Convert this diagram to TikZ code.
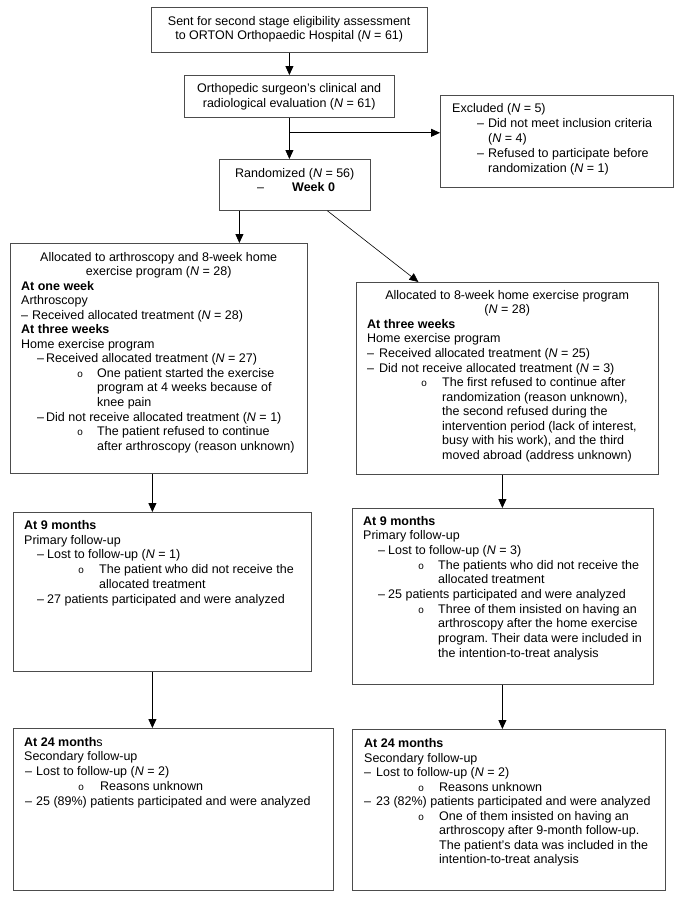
\documentclass[tikz,border=0pt]{standalone}
\usepackage{fontspec}
\setmainfont{Liberation Sans}
\newfontfamily\monof{Liberation Mono}
\usetikzlibrary{arrows.meta}
\frenchspacing
\newcommand{\NN}{\textit{N}}
\newcommand{\ind}[1]{\hspace*{#1pt}}
\newcommand{\dl}[3]{\hspace*{#1pt}\makebox[#2pt][l]{–}#3}
\newcommand{\bl}[3]{\hspace*{#1pt}\makebox[#2pt][l]{\hspace{1pt}{\monof\fontsize{10}{10}\selectfont o}}#3}
\newcommand{\btext}[3]{\begin{minipage}[t]{#1pt}\fontsize{12.5pt}{#2pt}\selectfont\frenchspacing\raggedright #3\end{minipage}}
\begin{document}
\begin{tikzpicture}[x=1pt,y=-1pt,
  box/.style={draw=black!70, line width=0.8pt, anchor=north west, inner sep=0pt},
  arr/.style={-{Triangle[length=9pt,width=8pt]}, line width=0.8pt},
  txt/.style={anchor=base west, inner sep=0pt}]
\useasboundingbox (0,0) rectangle (685,900);
\fill[white] (0,0) rectangle (685,900);
% boxes
\node[box, minimum width=276pt, minimum height=45pt] (b1) at (151,7) {};
\node[box, minimum width=210pt, minimum height=42pt] (b2) at (184,75) {};
\node[box, minimum width=233pt, minimum height=92pt] (ex) at (440,95) {};
\node[box, minimum width=151pt, minimum height=51pt] (rand) at (219,159) {};
\node[box, minimum width=297pt, minimum height=230pt] (la) at (10,243) {};
\node[box, minimum width=302pt, minimum height=192pt] (ra) at (356,282) {};
\node[box, minimum width=298pt, minimum height=159pt] (l9) at (13,512) {};
\node[box, minimum width=301pt, minimum height=176pt] (r9) at (352,508) {};
\node[box, minimum width=320pt, minimum height=162pt] (l24) at (13,728) {};
\node[box, minimum width=313pt, minimum height=161pt] (r24) at (352,729) {};
% texts
\node[txt] (t1) at (151,25.3) {\btext{276}{14.5}{%
\makebox[276pt]{Sent for second stage eligibility assessment}\\
\makebox[276pt]{to ORTON Orthopaedic Hospital (\NN{} = 61)}}};
\node[txt] (t2) at (184,92.6) {\btext{210}{14.4}{%
\makebox[210pt]{Orthopedic surgeon’s clinical and}\\
\makebox[210pt]{radiological evaluation (\NN{} = 61)}}};
\node[txt] (tex) at (440,112.6) {\btext{233}{15}{%
\ind{12}Excluded (\NN{} = 5)\\
\dl{37}{11}{Did not meet inclusion criteria}\\
\ind{48}(\NN{} = 4)\\
\dl{37}{11}{Refused to participate before}\\
\ind{48}randomization (\NN{} = 1)}};
\node[txt] (trand) at (219,177) {\btext{151}{14.6}{%
\ind{16}Randomized (\NN{} = 56)\\
\ind{38}\makebox[35pt][l]{–}\textbf{Week 0}}};
\node[txt] (tla) at (10,261) {\btext{297}{14.55}{%
\makebox[297pt]{Allocated to arthroscopy and 8-week home}\\
\makebox[297pt]{exercise program (\NN{} = 28)}\\
\ind{11}\textbf{At one week}\\
\ind{11}Arthroscopy\\
\dl{11}{11}{Received allocated treatment (\NN{} = 28)}\\
\ind{11}\textbf{At three weeks}\\
\ind{11}Home exercise program\\
\dl{27}{9}{Received allocated treatment (\NN{} = 27)}\\
\bl{66}{21}{One patient started the exercise}\\
\ind{87}program at 4 weeks because of\\
\ind{87}knee pain\\
\dl{27}{9}{Did not receive allocated treatment (\NN{} = 1)}\\
\bl{66}{21}{The patient refused to continue}\\
\ind{87}after arthroscopy (reason unknown)}};
\node[txt] (tra) at (356,299.3) {\btext{302}{14.55}{%
\makebox[302pt]{Allocated to 8-week home exercise program}\\
\makebox[302pt]{(\NN{} = 28)}\\
\ind{11}\textbf{At three weeks}\\
\ind{11}Home exercise program\\
\dl{11}{12}{Received allocated treatment (\NN{} = 25)}\\
\dl{11}{12}{Did not receive allocated treatment (\NN{} = 3)}\\
\bl{64}{22}{The first refused to continue after}\\
\ind{86}randomization (reason unknown),\\
\ind{86}the second refused during the\\
\ind{86}intervention period (lack of interest,\\
\ind{86}busy with his work), and the third\\
\ind{86}moved abroad (address unknown)}};
\node[txt] (tl9) at (13,529.3) {\btext{298}{14.8}{%
\ind{11}\textbf{At 9 months}\\
\ind{11}Primary follow-up\\
\dl{24}{10}{Lost to follow-up (\NN{} = 1)}\\
\bl{64}{22}{The patient who did not receive the}\\
\ind{86}allocated treatment\\
\dl{24}{10}{27 patients participated and were analyzed}}};
\node[txt] (tr9) at (352,525) {\btext{301}{14.67}{%
\ind{11}\textbf{At 9 months}\\
\ind{11}Primary follow-up\\
\dl{26}{10}{Lost to follow-up (\NN{} = 3)}\\
\bl{65}{21}{The patients who did not receive the}\\
\ind{86}allocated treatment\\
\dl{26}{10}{25 patients participated and were analyzed}\\
\bl{65}{21}{Three of them insisted on having an}\\
\ind{86}arthroscopy after the home exercise\\
\ind{86}program. Their data were included in\\
\ind{86}the intention-to-treat analysis}};
\node[txt] (tl24) at (13,746) {\btext{320}{14.8}{%
\ind{11}\textbf{At 24 month}s\\
\ind{11}Secondary follow-up\\
\dl{12}{11}{Lost to follow-up (\NN{} = 2)}\\
\bl{64}{23}{Reasons unknown}\\
\dl{12}{11}{25 (89\%) patients participated and were analyzed}}};
\node[txt] (tr24) at (352,747.6) {\btext{313}{14.5}{%
\ind{12}\textbf{At 24 months}\\
\ind{12}Secondary follow-up\\
\dl{12}{12}{Lost to follow-up (\NN{} = 2)}\\
\bl{65}{22}{Reasons unknown}\\
\dl{12}{12}{23 (82\%) patients participated and were analyzed}\\
\bl{65}{22}{One of them insisted on having an}\\
\ind{87}arthroscopy after 9-month follow-up.\\
\ind{87}The patient’s data was included in the\\
\ind{87}intention-to-treat analysis}};
% connectors
\draw[arr] (b1.south) -- (b2.north);
\draw[arr] (b2.south) -- (b2.south |- rand.north);
\coordinate (br) at ([yshift=-15pt]b2.south);
\draw[arr] (br) -- (br -| ex.west);
\coordinate (rl) at ([xshift=-55.5pt]rand.south);
\draw[arr] (rl) -- (rl |- la.north);
\coordinate (rr) at ([xshift=32.5pt]rand.south);
\coordinate (rt) at ([xshift=-89pt]ra.north);
\draw[arr, line width=0.6pt] (rr) -- (rt);
\coordinate (lad) at ([xshift=-6.5pt]la.south);
\draw[arr] (lad) -- (lad |- l9.north);
\coordinate (l9d) at ([xshift=-10pt]l9.south);
\draw[arr] (l9d) -- (l9d |- l24.north);
\coordinate (rad) at ([xshift=-5pt]ra.south);
\draw[arr] (rad) -- (rad |- r9.north);
\coordinate (r9d) at ([xshift=-0.5pt]r9.south);
\draw[arr] (r9d) -- (r9d |- r24.north);
\end{tikzpicture}
\end{document}
